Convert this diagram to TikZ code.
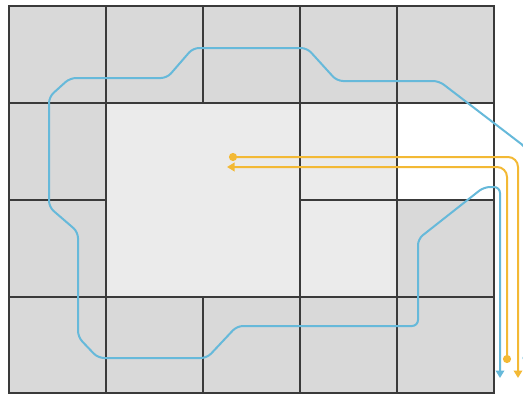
\documentclass[tikz,border=0pt]{standalone}
\usetikzlibrary{arrows.meta}

\definecolor{cellDark}{HTML}{D9D9D9}
\definecolor{cellLight}{HTML}{EBEBEB}
\definecolor{gridLine}{HTML}{3A3A3A}
\definecolor{routeBlue}{HTML}{66B9DA}
\definecolor{routeYellow}{HTML}{F3B935}

\begin{document}
\begin{tikzpicture}[
    x=1pt, y=-1pt,
    wall/.style={draw=gridLine, line width=1.3pt},
    route/.style={line width=2pt, rounded corners=6pt,
        {Circle[length=8pt]}-{Triangle[length=7.5pt, width=8.5pt]}},
    blueroute/.style={route, draw=routeBlue, color=routeBlue},
    yellowroute/.style={route, draw=routeYellow, color=routeYellow, rounded corners=10pt},
]

    % Column and row x/y-coordinates (pixels of the floor plan).
    \def\xA{9}   \def\xB{106} \def\xC{203}
    \def\xD{300} \def\xE{397} \def\xF{494}
    \def\yA{6}   \def\yB{103} \def\yC{200}
    \def\yD{297} \def\yE{393}

    \useasboundingbox (0,0) rectangle (523,394);
    \clip (0,0) rectangle (523,394);

    % ---------- cells ----------
    \fill[cellDark] (\xA,\yA) rectangle (\xF,\yE);
    \fill[cellLight] (\xB,\yB) rectangle (\xD,\yD);
    \fill[cellLight] (\xD,\yB) rectangle (\xE,\yD);
    \fill[white] (\xE,\yB) rectangle (\xF,\yC);

    % ---------- walls ----------
    \draw[wall] (\xA,\yA) rectangle (\xF,\yE);
    \draw[wall] (\xA,\yB) -- (\xF,\yB);
    \draw[wall] (\xA,\yD) -- (\xF,\yD);
    \draw[wall] (\xA,\yC) -- (\xB,\yC);
    \draw[wall] (\xD,\yC) -- (\xF,\yC);
    \draw[wall] (\xB,\yA) -- (\xB,\yE);
    \draw[wall] (\xD,\yA) -- (\xD,\yE);
    \draw[wall] (\xE,\yA) -- (\xE,\yE);
    \draw[wall] (\xC,\yA) -- (\xC,\yB);
    \draw[wall] (\xC,\yD) -- (\xC,\yE);

    % ---------- route end points ----------
    \coordinate (blue-start) at (526.5,362);
    \coordinate (blue-end) at (500,378);
    \coordinate (yellow-out-start) at (229,157);
    \coordinate (yellow-out-end) at (518,378);
    \coordinate (yellow-back-start) at (507,363);
    \coordinate (yellow-back-end) at (227,167);

    % ---------- blue route: round the outer ring ----------
    \draw[blueroute] (blue-start) -- (526.5,148) -- (439,81) -- (337,81)
        -- (307,48) -- (193,48) -- (167,78) -- (70,78) -- (49,97)
        -- (49,207) -- (78,232) -- (78,337) -- (98,358) -- (207,358)
        -- (237,326) -- (418,326) -- (418,239) -- (484,187) -- (500,187)
        -- (blue-end);

    % ---------- yellow routes: into the centre and back ----------
    \draw[yellowroute] (yellow-out-start) -- (518,157) -- (yellow-out-end);
    \draw[yellowroute] (yellow-back-start) -- (507,167) -- (yellow-back-end);

\end{tikzpicture}
\end{document}
